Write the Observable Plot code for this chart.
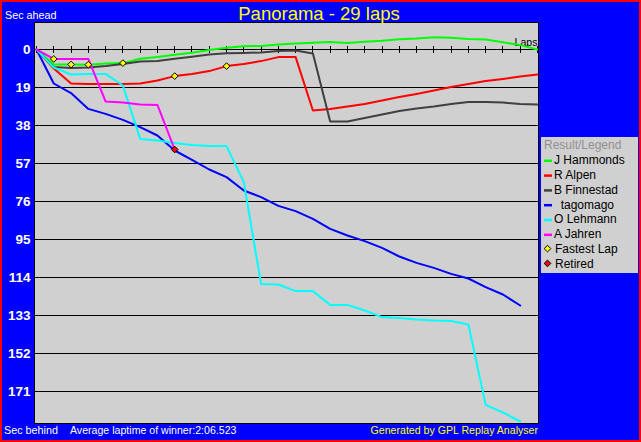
<!DOCTYPE html>
<html>
<head>
<meta charset="utf-8">
<script src="https://cdn.jsdelivr.net/npm/d3@7"></script>
<script src="https://cdn.jsdelivr.net/npm/@observablehq/plot@0.6"></script>
<style>
  html, body { margin: 0; padding: 0; background: #0000ff; }
  #chart { position: relative; width: 641px; height: 442px; background: #0000ff; overflow: hidden;
           font-family: "Liberation Sans", Arial, sans-serif; }
  #chart svg { position: absolute; left: 0; top: 0; }
  #border { position: absolute; left: 0; top: 0; width: 641px; height: 442px; box-sizing: border-box;
            border: 2px solid #ff0000; pointer-events: none; }
</style>
</head>
<body>
<div id="chart"></div>
<script>
// ---- data ----
const titleText = "Panorama - 29 laps";
const yLabelTop = "Sec ahead";
const yLabelBottom = "Sec behind";
const avgText = "Average laptime of winner:2:06.523";
const creditText = "Generated by GPL Replay Analyser";
const xLabel = "Laps";
const legendTitle = "Result/Legend";
const lapCount = 29;
const yTicks = [0, 19, 38, 57, 76, 95, 114, 133, 152, 171];

const drivers = ["J Hammonds", "R Alpen", "B Finnestad", "  tagomago", "O Lehmann", "A Jahren"];
const driverColors = ["#00ff00", "#ff0000", "#404040", "#0000ff", "#00ffff", "#ff00ff"];

// seconds behind winner's average pace, per lap (negative = ahead)
const hammonds = [0, 7.5, 7.5, 7.6, 7.0, 6.8, 4.6, 3.8, 2.6, 1.6, 0.3, -0.9, -1.6, -1.8, -2.5, -3.0, -3.4, -3.8, -3.3, -3.9, -4.4, -5.1, -5.5, -6.1, -5.9, -5.3, -5.0, -3.6, -2.2, 0];
const alpen    = [0, 9.5, 17.0, 17.2, 17.2, 17.2, 17.0, 15.5, 13.3, 12.2, 10.8, 8.3, 7.2, 5.8, 3.8, 3.8, 30.5, 29.7, 28.5, 27.2, 25.5, 23.8, 22.2, 20.5, 18.8, 17.2, 15.8, 14.7, 13.5, 12.5];
const finnestad = [0, 8.8, 9.2, 9.0, 8.3, 7.2, 6.0, 5.8, 4.6, 3.6, 2.5, 1.9, 1.7, 1.5, 0.8, 0.5, 2.0, 36.0, 36.0, 34.2, 32.5, 30.8, 29.5, 28.5, 27.3, 26.2, 26.2, 26.5, 27.3, 27.5];
const tagomago = [0, 17.0, 21.8, 29.7, 32.2, 35.2, 38.8, 43.0, 50.5, 55.2, 60.0, 63.8, 70.5, 73.8, 78.2, 80.8, 84.7, 89.7, 93.0, 95.8, 99.2, 103.5, 106.7, 109.2, 112.2, 114.5, 118.8, 122.5, 128.0];
const lehmann  = [0, 9.0, 12.5, 12.3, 12.2, 18.0, 44.7, 45.5, 46.8, 47.7, 48.3, 48.3, 66.3, 117.3, 117.5, 120.8, 120.8, 127.7, 127.7, 130.5, 133.8, 134.3, 135.0, 135.5, 135.8, 137.5, 177.7, 181.5, 186.0];
const jahren   = [0, 4.7, 4.7, 4.7, 26.0, 26.5, 27.5, 27.7, 50.0];
const series = [hammonds, alpen, finnestad, tagomago, lehmann, jahren];

const fastestLaps = [["A Jahren", 1], ["J Hammonds", 2], ["J Hammonds", 3], ["J Hammonds", 5], ["R Alpen", 8], ["R Alpen", 11]];
const retired = [["A Jahren", 8]];

// ---- derived tables ----
const rows = drivers.flatMap((d, i) => series[i].map((v, lap) => ({driver: d, lap, value: v})));
const lookup = ([d, lap]) => ({driver: d, lap, value: series[drivers.indexOf(d)][lap]});
const fastestRows = fastestLaps.map(lookup);
const retiredRows = retired.map(lookup);
const lapTicks = d3.range(0, lapCount + 1);

const font = "'Liberation Sans', Arial, sans-serif";

const chart = Plot.plot({
  width: 641, height: 442,
  marginTop: 22, marginRight: 103, marginBottom: 19, marginLeft: 34,
  style: {background: "transparent", fontFamily: font, overflow: "visible"},
  x: {domain: [0, lapCount], insetLeft: 2, insetRight: 1, axis: null},
  y: {domain: [-13.5, 187], reverse: true, axis: null},
  color: {domain: drivers, range: driverColors, legend: false},
  marks: [
    Plot.frame({fill: "#d0d0d0", stroke: "none"}),
    Plot.ruleY(yTicks, {stroke: "black"}),
    Plot.ruleX(lapTicks, {y1: -1.75, y2: 1.75, stroke: "black", shapeRendering: "crispEdges"}),
    Plot.axisY(yTicks, {tickSize: 0, tickPadding: 4, fill: "white", fontSize: 13.5, fontWeight: "bold", label: null}),
    Plot.text([xLabel], {x: () => lapCount, y: () => 0, text: d => d, textAnchor: "end", dy: -7, fill: "black", fontSize: 10.6}),
    Plot.line(rows, {x: "lap", y: "value", z: "driver", stroke: "driver", strokeWidth: 2}),
    Plot.dot(fastestRows, {x: "lap", y: "value", symbol: "diamond2", r: 3, fill: "#ffff00", stroke: "black", strokeWidth: 1}),
    Plot.dot(retiredRows, {x: "lap", y: "value", symbol: "diamond2", r: 3, fill: "#ff0000", stroke: "black", strokeWidth: 1}),
    Plot.frame({stroke: "black"})
  ]
});

const container = document.getElementById("chart");
container.appendChild(chart);

// ---- surrounding texts and legend ----
const deco = d3.create("svg").attr("width", 641).attr("height", 442).style("font-family", font);
deco.append("text").attr("x", 319).attr("y", 20).attr("text-anchor", "middle").attr("fill", "#ffff00")
  .attr("font-size", 18.5).text(titleText);
deco.append("text").attr("x", 5).attr("y", 19).attr("fill", "white").attr("font-size", 10.8).text(yLabelTop);
deco.append("text").attr("x", 4).attr("y", 434).attr("fill", "white").attr("font-size", 10.8).text(yLabelBottom);
deco.append("text").attr("x", 70).attr("y", 434).attr("fill", "white").attr("font-size", 10.6).text(avgText);
deco.append("text").attr("x", 538).attr("y", 434).attr("text-anchor", "end").attr("fill", "#ffff00").attr("font-size", 10.6).text(creditText);

const lg = deco.append("g");
lg.append("rect").attr("x", 541).attr("y", 137).attr("width", 97).attr("height", 136).attr("fill", "#d0d0d0");
const rowY = i => 145 + i * 14.8;
lg.append("text").attr("x", 544).attr("y", rowY(0) + 4.3).attr("fill", "#909090").attr("font-size", 12).text(legendTitle);
drivers.forEach((d, i) => {
  const cy = rowY(i + 1);
  lg.append("line").attr("x1", 544).attr("x2", 552).attr("y1", cy + 1).attr("y2", cy + 1)
    .attr("stroke", driverColors[i]).attr("stroke-width", 2.5);
  lg.append("text").attr("x", 554).attr("y", cy + 4.3).attr("fill", "black").attr("font-size", 12)
    .style("white-space", "pre").text(d);
});
const markerItems = [["Fastest Lap", "#ffff00"], ["Retired", "#ff0000"]];
markerItems.forEach(([label, c], j) => {
  const cy = rowY(drivers.length + 1 + j);
  lg.append("path").attr("d", d3.symbol(d3.symbolDiamond2, 3 * 3 * Math.PI)())
    .attr("transform", `translate(547.5,${cy})`).attr("fill", c).attr("stroke", "black").attr("stroke-width", 1);
  lg.append("text").attr("x", 555).attr("y", cy + 4.3).attr("fill", "black").attr("font-size", 12).text(label);
});
container.appendChild(deco.node());

const border = document.createElement("div");
border.id = "border";
container.appendChild(border);
</script>
</body>
</html>
